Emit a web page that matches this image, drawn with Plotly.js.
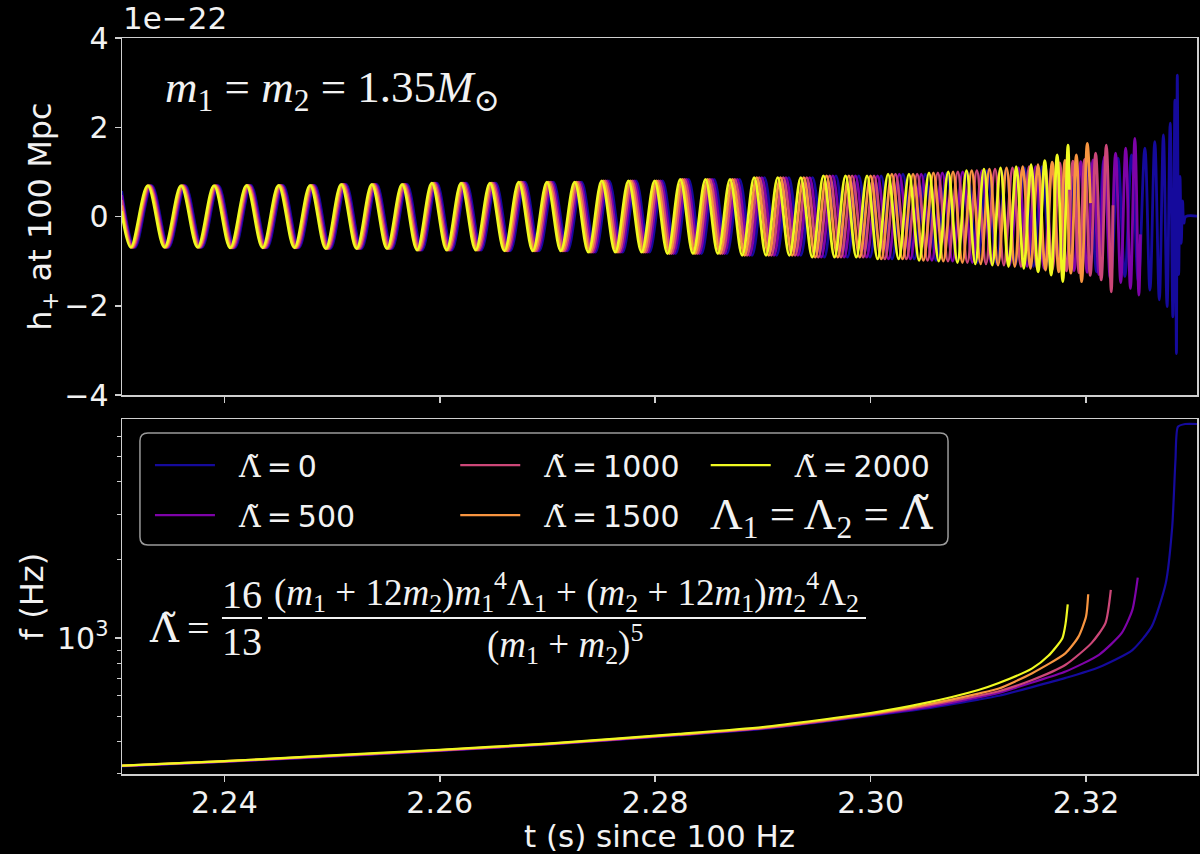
<!DOCTYPE html>
<html><head><meta charset="utf-8">
<script src="https://cdn.plot.ly/plotly-3.0.1.min.js"></script>
<style>html,body{margin:0;padding:0;background:#000;}#chart{width:1200px;height:854px;}</style>
</head><body><div id="chart"></div>
<script>
// ---------- series labels and colours ----------
const lambdaLabels = ['0', '500', '1000', '1500', '2000'];
const seriesColors = ['#150a9c', '#7e03a8', '#cc4778', '#f89540', '#f0f921'];

// ---------- top panel: h+ extrema (units of 1e-22) ----------
const hEarly = [
 -0.69,0.69,-0.69,0.69,-0.69,0.69,
 -0.70,0.70,-0.70,0.70,-0.70,0.70,
 -0.72,0.72,-0.72,0.72,-0.72,0.72,
 -0.75,0.75,-0.75,0.75,-0.75,0.75,
 -0.77,0.77,-0.77,0.77,-0.77,0.77,
 -0.80,0.80,-0.80,0.80,-0.80,0.80,
 -0.83,0.83,-0.83,0.83,-0.83,0.83,
 -0.87,0.87,-0.87,0.87,-0.87,0.87,
 -0.91,0.91,-0.91,0.91,-0.91,0.91,
 -0.95,0.95,-0.95,0.95,
 -0.98,0.98,-1.00,1.00,-1.03,1.03,-1.06,1.06,-1.09,1.09,-1.12,1.12,-1.16,1.16];

const tWave2000 = [2.23046,
 2.23132,2.23289,2.23444,2.23598,2.23752,2.23904,
 2.24055,2.24206,2.24355,2.24503,2.24650,2.24796,
 2.24941,2.25085,2.25228,2.25369,2.25510,2.25650,
 2.25789,2.25926,2.26063,2.26198,2.26333,2.26466,
 2.26600,2.26733,2.26864,2.26995,2.27124,2.27252,
 2.27379,2.27504,2.27629,2.27752,2.27874,2.27995,
 2.28115,2.28233,2.28351,2.28467,2.28582,2.28695,
 2.28808,2.28919,2.29029,2.29138,2.29246,2.29352,
 2.29458,2.29562,2.29665,2.29767,2.29867,2.29967,
 2.30065,2.30162,2.30260,2.30356,
 2.30450,2.30542,2.30632,2.30720,2.30806,2.30890,2.30972,2.31052,2.31130,2.31206,2.31280,2.31352,2.31422,2.31490,
 2.31555,2.31617,2.31676,2.31732,2.31784,2.31832,
 2.31845];
const hWave2000 = [0.12].concat(hEarly, [-1.24,1.25,-1.31,1.38,-1.46,1.60, 0.60]);

const tWave1500 = [2.23046,
 2.23141,2.23298,2.23454,2.23608,2.23762,2.23914,
 2.24065,2.24216,2.24365,2.24513,2.24661,2.24807,
 2.24952,2.25096,2.25239,2.25381,2.25521,2.25661,
 2.25800,2.25938,2.26075,2.26211,2.26346,2.26479,
 2.26614,2.26747,2.26879,2.27010,2.27139,2.27268,
 2.27395,2.27521,2.27646,2.27770,2.27892,2.28013,
 2.28134,2.28252,2.28370,2.28487,2.28603,2.28717,
 2.28831,2.28943,2.29054,2.29163,2.29272,2.29379,
 2.29486,2.29591,2.29695,2.29798,2.29899,2.30000,
 2.30099,2.30197,2.30296,2.30394,
 2.30490,2.30583,2.30675,2.30765,2.30852,2.30938,2.31022,2.31103,2.31183,2.31262,2.31338,2.31412,2.31484,2.31554,
 2.31622,2.31686,2.31747,2.31805,2.31859,2.31910,2.31959,2.32011,
 2.32041];
const hWave1500 = [0.25].concat(hEarly, [-1.20,1.22,-1.24,1.26,-1.27,1.38,-1.46,1.64, 0.30]);

const tWave1000 = [2.23046,
 2.23151,2.23307,2.23463,2.23618,2.23771,2.23924,
 2.24076,2.24226,2.24375,2.24524,2.24671,2.24817,
 2.24962,2.25107,2.25250,2.25392,2.25533,2.25673,
 2.25812,2.25950,2.26087,2.26223,2.26359,2.26493,
 2.26628,2.26761,2.26894,2.27025,2.27155,2.27284,
 2.27411,2.27538,2.27663,2.27787,2.27910,2.28032,
 2.28152,2.28272,2.28390,2.28507,2.28623,2.28739,
 2.28853,2.28966,2.29078,2.29189,2.29299,2.29407,
 2.29514,2.29620,2.29725,2.29829,2.29931,2.30032,
 2.30132,2.30231,2.30332,2.30432,
 2.30529,2.30624,2.30718,2.30809,2.30898,2.30986,2.31071,2.31155,2.31237,2.31317,2.31396,2.31472,2.31546,2.31619,
 2.31688,2.31755,2.31818,2.31878,2.31935,2.31987,2.32039,2.32089,2.32141,2.32188,2.32234,
 2.32250];
const hWave1000 = [0.37].concat(hEarly, [-1.19,1.20,-1.22,1.24,-1.26,1.28,-1.32,1.42,-1.42,1.60,-1.69, 0.25]);

const tWave500 = [2.23046,
 2.23160,2.23317,2.23473,2.23627,2.23781,2.23934,
 2.24086,2.24236,2.24386,2.24534,2.24682,2.24828,
 2.24973,2.25118,2.25261,2.25403,2.25544,2.25684,
 2.25823,2.25961,2.26099,2.26236,2.26372,2.26506,
 2.26641,2.26776,2.26908,2.27040,2.27170,2.27300,
 2.27428,2.27554,2.27680,2.27805,2.27928,2.28050,
 2.28171,2.28291,2.28409,2.28527,2.28644,2.28761,
 2.28876,2.28990,2.29103,2.29214,2.29325,2.29434,
 2.29542,2.29649,2.29755,2.29859,2.29963,2.30065,
 2.30166,2.30266,2.30369,2.30470,
 2.30569,2.30666,2.30761,2.30854,2.30945,2.31034,2.31121,2.31206,2.31290,2.31373,2.31453,2.31532,2.31609,2.31683,
 2.31755,2.31823,2.31889,2.31951,2.32010,2.32065,2.32119,2.32172,2.32224,2.32274,2.32322,2.32368,2.32412,2.32453,2.32490,
 2.32505];
const hWave500 = [0.48].concat(hEarly, [-1.18,1.19,-1.21,1.23,-1.25,1.27,-1.30,1.34,-1.38,1.42,-1.48,1.53,-1.61,1.75,-1.76, -0.40]);

const tWave0 = [2.23046,
 2.23169,2.23326,2.23482,2.23637,2.23791,2.23944,
 2.24096,2.24246,2.24396,2.24545,2.24692,2.24839,
 2.24984,2.25129,2.25272,2.25414,2.25555,2.25696,
 2.25835,2.25973,2.26111,2.26248,2.26385,2.26520,
 2.26655,2.26790,2.26923,2.27055,2.27186,2.27316,
 2.27444,2.27571,2.27697,2.27822,2.27946,2.28068,
 2.28190,2.28310,2.28429,2.28547,2.28665,2.28783,
 2.28899,2.29014,2.29127,2.29240,2.29351,2.29461,
 2.29571,2.29678,2.29785,2.29890,2.29994,2.30098,
 2.30199,2.30300,2.30405,2.30507,
 2.30608,2.30707,2.30804,2.30898,2.30991,2.31082,2.31170,2.31257,2.31344,2.31429,2.31511,2.31592,2.31671,2.31748,
 2.31820,2.31891,2.31961,2.32030,2.32098,2.32165,2.32231,2.32296,2.32360,2.32423,2.32485,2.32546,2.32593,2.32638,2.32680,2.32718,2.32752,2.32781,2.32806,2.32825,2.32839,2.32847,
 2.32860,2.32872,2.32884,2.32896,2.32908,
 2.32925,2.33060];
const hWave0 = [0.57].concat(hEarly, [-1.18,1.19,-1.20,1.22,-1.24,1.26,-1.28,1.31,-1.34,1.38,-1.45,1.53,-1.65,1.68,-1.87,1.83,-2.02,2.09,-2.25,2.61,-3.07,3.17,
 -1.30,0.90,-0.60,0.35,-0.15, 0, 0]);

// ---------- bottom panel: frequency tracks (Hz) ----------
const tFreq2000 = [2.2304,2.2400,2.2478,2.2600,2.2700,2.2822,2.2900,2.3000,2.3050,2.3100,2.3119,2.3150,2.3165,2.3178,2.3181,2.3183];
const fFreq2000 = [323,336,350,372,393,428,455,515,562,632,672,765,855,1000,1140,1350];
const tFreq1500 = [2.2304,2.2400,2.2478,2.2600,2.2700,2.2822,2.2900,2.3000,2.3050,2.3100,2.3119,2.3150,2.3181,2.3193,2.3200,2.3202];
const fFreq1500 = [323,336,349,371,392,426,452,511,553,612,640,733,876,1014,1211,1476];
const tFreq1000 = [2.2304,2.2400,2.2478,2.2600,2.2700,2.2822,2.2900,2.3000,2.3050,2.3100,2.3119,2.3150,2.3181,2.3205,2.3218,2.3223];
const fFreq1000 = [322,335,348,370,391,425,450,508,547,600,625,690,790,957,1142,1534];
const tFreq500 = [2.2304,2.2400,2.2478,2.2600,2.2700,2.2822,2.2900,2.3000,2.3050,2.3100,2.3119,2.3150,2.3181,2.3212,2.3233,2.3243,2.3248];
const fFreq500 = [322,335,347,369,390,424,449,505,540,592,616,675,744,863,1045,1285,1711];
const tFreq0 = [2.2304,2.2400,2.2478,2.2600,2.2700,2.2822,2.2900,2.3000,2.3050,2.3100,2.3119,2.3150,2.3181,2.3212,2.3243,2.3261,2.3274,2.3280,2.3283,2.32853,2.3292,2.3304];
const fFreq0 = [321,334,346,368,389,422,447,502,535,580,600,648,703,773,900,1110,1627,2687,4851,6513,6672,6672];

// ---------- axes ----------
const tRange = [2.2305, 2.3303];
const tTicks = [2.24, 2.26, 2.28, 2.30, 2.32];
const tTickText = ['2.24', '2.26', '2.28', '2.30', '2.32'];
const hRange = [-4, 4];
const hTicks = [-4, -2, 0, 2, 4];
const fRange = [300, 6975];
const fMajorTicks = [1000];
const fMajorText = ['10<sup>3</sup>'];
const fMinorTicks = [300,400,500,600,700,800,900,2000,3000,4000,5000,6000];

const waveT = [tWave0, tWave500, tWave1000, tWave1500, tWave2000];
const waveH = [hWave0, hWave500, hWave1000, hWave1500, hWave2000];
const freqT = [tFreq0, tFreq500, tFreq1000, tFreq1500, tFreq2000];
const freqF = [fFreq0, fFreq500, fFreq1000, fFreq1500, fFreq2000];
const legendOf = ['legend', 'legend', 'legend2', 'legend2', 'legend3'];

const serif = 'Liberation Serif, DejaVu Serif, serif';
const tildeL = '<span style="font-family:DejaVu Serif">Λ\u0303</span>';

const traces = [];
for (let k = 0; k < 5; k++) {
  traces.push({
    type: 'scatter', mode: 'lines', x: waveT[k], y: waveH[k], xaxis: 'x', yaxis: 'y',
    line: {color: seriesColors[k], width: 2.8, shape: 'spline', smoothing: 1, simplify: false},
    showlegend: false, legendgroup: 'g' + k, hoverinfo: 'skip'
  });
}
for (let k = 0; k < 5; k++) {
  traces.push({
    type: 'scatter', mode: 'lines', x: freqT[k], y: freqF[k], xaxis: 'x2', yaxis: 'y2',
    line: {color: seriesColors[k], width: 2.2, shape: 'spline', smoothing: 0.6},
    name: '&nbsp;&nbsp;' + tildeL + '\u2009=\u2009' + lambdaLabels[k],
    legend: legendOf[k], legendgroup: 'g' + k, showlegend: true
  });
}

const axisCol = '#cfcfcf';
const txtCol = '#f2f2f2';
const tickFont = {family: 'DejaVu Sans', size: 30, color: txtCol};
const titleFont = {family: 'DejaVu Sans', size: 32, color: txtCol};
const legendBase = {orientation: 'v', xanchor: 'left', yanchor: 'top', bgcolor: 'rgba(0,0,0,0)',
  borderwidth: 0, font: {family: 'DejaVu Sans', size: 30, color: txtCol}, tracegroupgap: 8, itemwidth: 60};

// legend frame (rounded) in paper coords
const bx0 = 0.0167, bx1 = 0.7684, by0 = 0.3111, by1 = 0.4633, rx = 0.0074, ry = 0.0109;
const boxPath = `M${bx0+rx},${by0} L${bx1-rx},${by0} Q${bx1},${by0} ${bx1},${by0+ry} L${bx1},${by1-ry} Q${bx1},${by1} ${bx1-rx},${by1} L${bx0+rx},${by1} Q${bx0},${by1} ${bx0},${by1-ry} L${bx0},${by0+ry} Q${bx0},${by0} ${bx0+rx},${by0} Z`;

const numer = '(<i>m</i><sub>1</sub> + 12<i>m</i><sub>2</sub>)<i>m</i><sub>1</sub><sup>4</sup>Λ<sub>1</sub> + (<i>m</i><sub>2</sub> + 12<i>m</i><sub>1</sub>)<i>m</i><sub>2</sub><sup>4</sup>Λ<sub>2</sub>';
const denom = '(<i>m</i><sub>1</sub> + <i>m</i><sub>2</sub>)<sup>5</sup>';

const layout = {
  width: 1200, height: 854,
  paper_bgcolor: '#000', plot_bgcolor: '#000',
  margin: {l: 122, r: 3, t: 38, b: 80},
  font: {family: 'DejaVu Sans', color: txtCol, size: 28},
  xaxis: {domain: [0, 1], anchor: 'y', range: tRange, tickvals: tTicks, showticklabels: false,
    ticks: 'outside', ticklen: 6, tickwidth: 1.5, tickcolor: axisCol,
    showline: true, mirror: true, linecolor: axisCol, linewidth: 1.5, showgrid: false, zeroline: false},
  yaxis: {domain: [0.5149, 1], anchor: 'x', range: hRange, tickvals: hTicks,
    ticks: 'outside', ticklen: 6, tickwidth: 1.5, tickcolor: axisCol, tickfont: tickFont,
    showline: true, mirror: true, linecolor: axisCol, linewidth: 1.5, showgrid: false, zeroline: false,
    title: {text: 'h<sub>+</sub> at 100 Mpc', font: titleFont, standoff: 3}},
  xaxis2: {domain: [0, 1], anchor: 'y2', matches: 'x', range: tRange, tickvals: tTicks, ticktext: tTickText,
    ticks: 'outside', ticklen: 6, tickwidth: 1.5, tickcolor: axisCol, tickfont: tickFont, ticklabelstandoff: -5,
    showline: true, mirror: true, linecolor: axisCol, linewidth: 1.5, showgrid: false, zeroline: false,
    title: {text: 't (s) since 100 Hz', font: {family: 'DejaVu Sans', size: 31, color: txtCol}, standoff: 7}},
  yaxis2: {domain: [0, 0.4823], anchor: 'x2', type: 'log', range: [Math.log10(fRange[0]), Math.log10(fRange[1])],
    tickvals: fMajorTicks, ticktext: fMajorText,
    ticks: 'outside', ticklen: 6, tickwidth: 1.5, tickcolor: axisCol, tickfont: tickFont,
    minor: {tickmode: 'array', tickvals: fMinorTicks, ticks: 'outside', ticklen: 4, tickwidth: 1, tickcolor: axisCol, showgrid: false},
    showline: true, mirror: true, linecolor: axisCol, linewidth: 1.5, showgrid: false, zeroline: false,
    title: {text: 'f (Hz)', font: titleFont, standoff: 3}},
  legend: Object.assign({}, legendBase, {x: 0.026, y: 0.455}),
  legend2: Object.assign({}, legendBase, {x: 0.31, y: 0.455}),
  legend3: Object.assign({}, legendBase, {x: 0.543, y: 0.455}),
  shapes: [
    {type: 'path', xref: 'paper', yref: 'paper', path: boxPath, line: {color: '#9a9a9a', width: 1.5}, fillcolor: 'rgba(0,0,0,0.8)', layer: 'above'},
    {type: 'line', xref: 'paper', yref: 'paper', x0: 0.0930, x1: 0.1302, y0: 0.2120, y1: 0.2120, line: {color: txtCol, width: 2}},
    {type: 'line', xref: 'paper', yref: 'paper', x0: 0.1358, x1: 0.6921, y0: 0.2120, y1: 0.2120, line: {color: txtCol, width: 2}}
  ],
  annotations: [
    {xref: 'paper', yref: 'paper', x: -0.001, y: 1.0, xanchor: 'left', yanchor: 'bottom', showarrow: false,
     text: '1e\u221222', font: {family: 'DejaVu Sans', size: 31, color: txtCol}},
    {xref: 'paper', yref: 'paper', x: 0.0381, y: 0.930, xanchor: 'left', yanchor: 'middle', showarrow: false,
     text: '<i>m</i><sub>1</sub> = <i>m</i><sub>2</sub> = 1.35<i>M</i><sub>⊙</sub>', font: {family: serif, size: 45, color: txtCol}},
    {xref: 'paper', yref: 'paper', x: 0.5451, y: 0.350, xanchor: 'left', yanchor: 'middle', showarrow: false,
     text: 'Λ<sub>1</sub> = Λ<sub>2</sub> = ' + tildeL, font: {family: serif, size: 45, color: txtCol}},
    {xref: 'paper', yref: 'paper', x: 0.0232, y: 0.198, xanchor: 'left', yanchor: 'middle', showarrow: false,
     text: tildeL + '\u2009=', font: {family: serif, size: 40, color: txtCol}},
    {xref: 'paper', yref: 'paper', x: 0.1116, y: 0.2435, xanchor: 'center', yanchor: 'middle', showarrow: false,
     text: '16', font: {family: serif, size: 40, color: txtCol}},
    {xref: 'paper', yref: 'paper', x: 0.1116, y: 0.1795, xanchor: 'center', yanchor: 'middle', showarrow: false,
     text: '13', font: {family: serif, size: 40, color: txtCol}},
    {xref: 'paper', yref: 'paper', x: 0.4135, y: 0.2475, xanchor: 'center', yanchor: 'middle', showarrow: false,
     text: numer, font: {family: serif, size: 37, color: txtCol}},
    {xref: 'paper', yref: 'paper', x: 0.4121, y: 0.1770, xanchor: 'center', yanchor: 'middle', showarrow: false,
     text: denom, font: {family: serif, size: 37, color: txtCol}}
  ]
};

Plotly.newPlot('chart', traces, layout, {displayModeBar: false, staticPlot: true});
</script></body></html>
